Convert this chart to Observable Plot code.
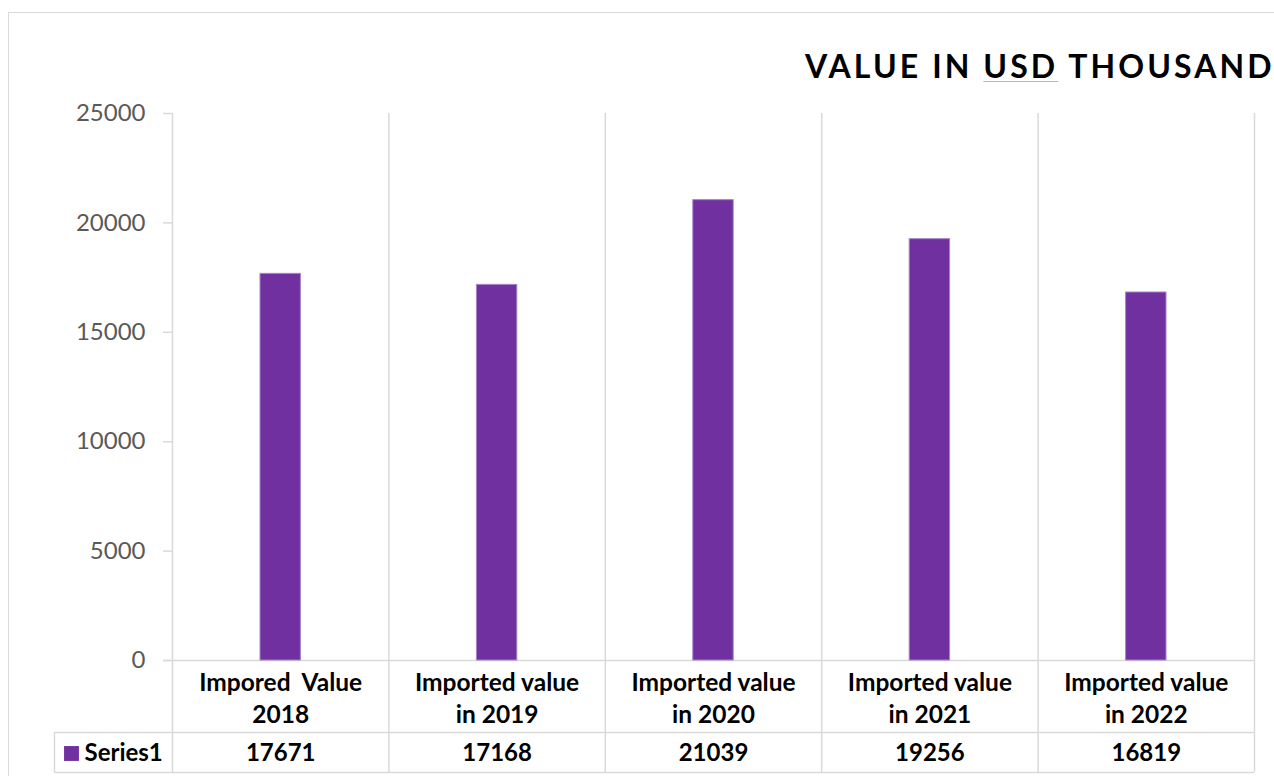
<!DOCTYPE html>
<html>
<head>
<meta charset="utf-8">
<script src="https://cdn.jsdelivr.net/npm/d3@7"></script>
<script src="https://cdn.jsdelivr.net/npm/@observablehq/plot@0.6"></script>
<style>
  html, body { margin: 0; padding: 0; background: #fff; width: 1274px; height: 776px; overflow: hidden; }
  #frame { position: absolute; left: 8px; top: 12px; width: 1300px; height: 800px; border: 1.5px solid #d9d9d9; box-sizing: border-box; }
  #title { position: absolute; left: 805px; top: 46px; font-family: Lato, sans-serif; font-weight: 700; font-size: 32px; letter-spacing: 3.1px; color: #000; white-space: nowrap; }
  #title .u { text-decoration: underline; text-decoration-color: #e8a3a3; text-decoration-thickness: 1px; text-underline-offset: 3px; }
  #chart { position: absolute; left: 0; top: 0; }
</style>
</head>
<body>
<div id="frame"></div>
<div id="title">VALUE IN <span class="u">USD</span> THOUSAND</div>
<div id="chart"></div>
<script>
const categories = ["Impored  Value\n2018", "Imported value\nin 2019", "Imported value\nin 2020", "Imported value\nin 2021", "Imported value\nin 2022"];
const values = [17671, 17168, 21039, 19256, 16819];
const seriesName = "Series1";
const yTicks = [0, 5000, 10000, 15000, 20000, 25000];

const data = categories.map((c, i) => ({label: c, i, value: values[i]}));
const boundaries = d3.range(categories.length + 1);
const grid = "#d9d9d9";
const purple = "#7030A0";

const chart = Plot.plot({
  width: 1274,
  height: 776,
  marginLeft: 172,
  marginRight: 20,
  marginTop: 113,
  marginBottom: 116,
  x: {domain: [0, categories.length], axis: null},
  y: {domain: [0, 25000], axis: null},
  style: {fontFamily: "Lato, sans-serif", background: "transparent", overflow: "visible"},
  marks: [
    // vertical separators through plot and data table
    Plot.ruleX(boundaries, {stroke: grid, strokeWidth: 1.5, insetBottom: -112}),
    // zero line / table header top
    Plot.ruleY([0], {stroke: grid, strokeWidth: 1.5, insetLeft: -9}),
    // table row lines
    Plot.ruleY([0], {stroke: grid, strokeWidth: 1.5, dy: 72, insetLeft: -118}),
    Plot.ruleY([0], {stroke: grid, strokeWidth: 1.5, dy: 112, insetLeft: -118}),
    // legend cell left border
    Plot.ruleX([0], {stroke: grid, strokeWidth: 1.5, dx: -118, insetTop: 619, insetBottom: -112}),
    // y axis
    Plot.axisY({ticks: yTicks, tickSize: 9, tickPadding: 18, tickFormat: d => String(d), stroke: grid, strokeWidth: 1.5, fill: "#595959", fontSize: 24, label: null}),
    // bars
    Plot.rectY(data, {x1: "i", x2: d => d.i + 1, y: "value", fill: purple, stroke: "#a584c8", strokeWidth: 1, insetLeft: 88, insetRight: 88}),
    // category labels (table header)
    Plot.text(data, {x: d => d.i + 0.5, y: 0, text: "label", dy: 36, fontSize: 24.5, fontWeight: "bold", lineHeight: 1.3, fill: "#000"}),
    // values row
    Plot.text(data, {x: d => d.i + 0.5, y: 0, text: d => String(d.value), dy: 93, fontSize: 24, fontWeight: "bold", fill: "#000"}),
    // legend key
    Plot.dot([seriesName], {x: () => 0, y: () => 0, dx: -101, dy: 93, symbol: "square", r: 8.4, fill: purple}),
    Plot.text([seriesName], {x: () => 0, y: () => 0, dx: -88, dy: 93, text: d => d, textAnchor: "start", fontSize: 24, fontWeight: "bold", fill: "#000"})
  ]
});
document.getElementById("chart").append(chart);
</script>
</body>
</html>
